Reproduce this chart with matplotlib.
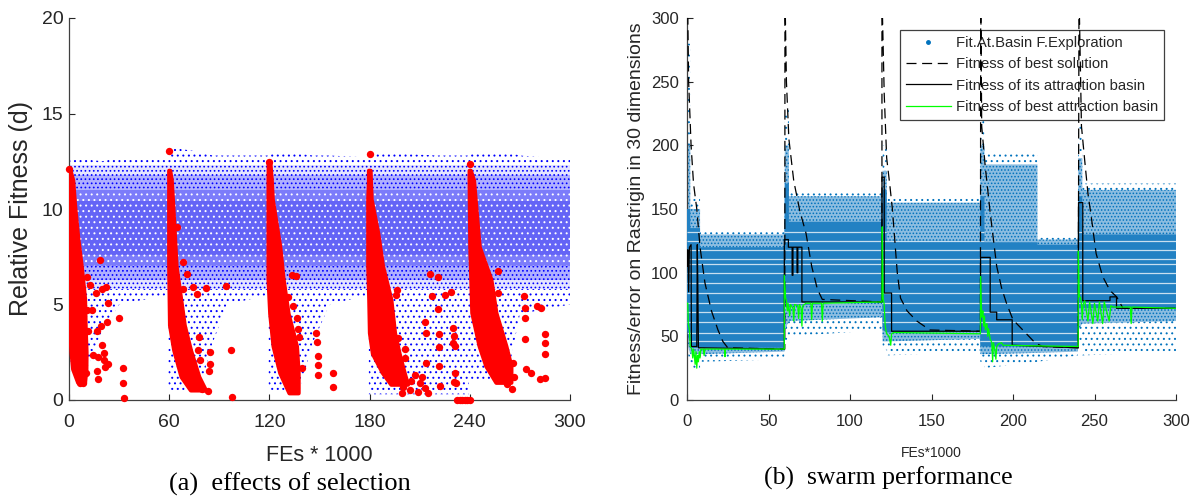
import numpy as np
import matplotlib
matplotlib.use("Agg")
import matplotlib.pyplot as plt
from matplotlib.patches import Polygon
from matplotlib.lines import Line2D

plt.rcParams['font.family'] = ['Liberation Sans', 'DejaVu Sans']
plt.rcParams['hatch.linewidth'] = 0.7

# ---------------- (a) effects of selection ----------------
a_xticks = [0, 60, 120, 180, 240, 300]
a_yticks = [0, 5, 10, 15, 20]

# envelope of the blue cloud
a_x = [0, 2, 10, 20, 30, 59.5, 59.51, 62, 78, 86, 95, 119.5, 119.51, 122, 138, 146, 156, 179.5,
       179.51, 200, 220, 239.5, 239.51, 262, 270, 300]
a_sparse_lo = [1.5, 1.5, 1.5, 3.5, 5.0, 5.5, 0.5, 0.5, 0.5, 3.0, 5.0, 5.5, 0.5, 0.5, 0.5, 3.0, 5.0, 5.5,
               0.3, 0.3, 0.3, 0.3, 1.0, 1.0, 4.5, 5.0]
a_sparse_hi = [12.6, 12.7, 12.6, 12.5, 12.7, 12.7, 13.2, 13.2, 13.0, 12.8, 12.8, 12.8, 13.0, 13.0, 12.9, 12.8,
               12.8, 12.7, 12.9, 12.9, 12.8, 12.8, 13.0, 13.0, 12.8, 12.6]
# density levels of the cloud: (low, high) from sparse to dense
a_levels = [(5.8, 12.3), (6.3, 11.8), (7.0, 11.0), (7.6, 10.4)]
a_level_colors = ['#e4e4ff', '#b0b0ff', '#7c7cfa', '#6464f6']
a_level_hatch = [('....', '#0000ff'), ('....', '#0000ff'), ('...', '#ffffff'), ('...', '#ffffff')]

# dense red bands: (y level, left x, right x)
band1_y = [12.1, 11.5, 10.2, 8.4, 7.0, 5.3, 3.7, 2.5, 1.6, 0.9]
band1_l = [0, 0, 0, 0, 0, 0, 0.6, 1.5, 2.5, 5.5]
band1_r = [0.6, 2.5, 3.6, 5.6, 7.6, 9.6, 10.0, 10.5, 10.4, 9.6]
band2_y = [12.0, 11.5, 10.2, 7.0, 3.9, 2.6, 1.2, 0.5]
band2_l = [60, 60, 60, 60, 60.5, 63, 67.4, 73]
band2_r = [60.6, 61.5, 62.4, 64.4, 69.3, 73, 78, 82]
band3_y = [12.4, 11.5, 10.5, 8.0, 6.3, 4.5, 2.8, 1.4, 0.35]
band3_l = [119.6, 119.5, 119.5, 119.5, 119.5, 120.5, 122.5, 126.5, 132]
band3_r = [120.6, 121.4, 122, 126.5, 128.5, 131.5, 136.5, 137.5, 137.5]
band4_y = [12.0, 11.4, 10.5, 8.7, 7.0, 5.25, 3.5, 2.4, 1.4, 0.8]
band4_l = [179.6, 179.6, 179.2, 179.2, 179.2, 179.8, 180.2, 182, 188, 193]
band4_r = [180.6, 180.8, 181.2, 185.2, 188, 193, 195.2, 198, 201, 203]
band5_y = [12.0, 11.5, 8.0, 6.3, 4.55, 2.8, 1.76, 0.9]
band5_l = [239.9, 239.9, 240.3, 240.9, 241.5, 245.9, 249.9, 255.9]
band5_r = [240.6, 242.5, 245.9, 252.9, 255.9, 261.9, 264.9, 264.9]

# isolated red points
red_x = [18.6, 11, 12.5, 15.9, 19.5, 22, 23.5, 11, 14, 19, 22.9, 30, 11.6, 16.6, 14.5, 17.5, 19.5, 21, 21, 23.5,
         21.5, 16.6, 17.2, 32.5, 32.5, 33, 8.6, 10, 5, 6.5, 0,
         64.6, 68.2, 70.6, 68.2, 74.4, 76.4, 82, 94, 78, 77, 84.4, 78.4, 84.5, 84, 97, 97.8, 79.5, 83.4, 77.5, 60,
         133.4, 136, 131.4, 134.4, 136.4, 137.4, 138, 139.4, 148, 148.4, 149, 149, 149, 158, 158, 120,
         180.2, 196.2, 216.2, 220.8, 196, 217.6, 225.2, 228.8, 221, 213.4, 214, 221.6, 230.5, 231.4, 221.6, 197,
         201, 201, 214, 221.6, 231.4, 232, 222.4, 197.2, 200.2, 204.2, 207.2, 210.2, 213.2, 215.2, 199.2, 209.2,
         205, 211.5, 230, 230, 230.8, 232.5, 234, 235.5, 237, 238.5, 240,
         240.1, 256.7, 257, 264, 266, 263, 272.4, 272.8, 272.8, 272.8, 273.8, 276.8, 280.4, 282.8, 284.8, 284.8,
         285.2, 281.8, 285.2, 266.5, 262, 265]
red_y = [7.33, 6.46, 6.0, 5.6, 5.8, 5.9, 5.1, 4.7, 4.7, 3.9, 4.1, 4.3, 3.6, 3.6, 2.35, 2.27, 2.9, 2.45, 2.1, 1.9,
         1.74, 1.5, 1.1, 1.7, 0.9, 0.13, 0.87, 1.4, 1.76, 0.87, 12.1,
         9.05, 7.2, 6.6, 5.8, 5.9, 5.55, 5.85, 5.95, 3.3, 2.6, 2.5, 2.1, 1.9, 1.5, 2.6, 0.18, 0.6, 0.48, 0.78, 13.05,
         6.54, 6.5, 5.4, 4.9, 4.3, 3.7, 3.3, 1.66, 3.5, 3.05, 2.3, 1.84, 1.3, 1.43, 0.67, 12.45,
         12.86, 5.75, 6.6, 6.45, 5.5, 5.45, 5.5, 5.64, 4.75, 4.1, 3.5, 3.46, 3.35, 2.83, 2.8, 3.27,
         2.65, 2.2, 1.96, 1.78, 1.4, 0.87, 0.73, 1.05, 0.70, 0.53, 1.31, 0.87, 0.61, 0.35, 0.35, 0.44,
         1.0, 1.2, 3.75, 3.0, 0.95, 0.0, 0.0, 0.0, 0.0, 0.0, 0.0,
         12.34, 6.77, 5.62, 1.92, 1.95, 1.54, 5.44, 4.8, 4.28, 3.2, 1.61, 1.43, 4.92, 4.8, 3.46, 2.97,
         2.41, 1.08, 1.13, 1.2, 0.85, 0.6]

# ---------------- (b) swarm performance ----------------
b_xticks = [0, 50, 100, 150, 200, 250, 300]
b_yticks = [0, 50, 100, 150, 200, 250, 300]

b_x = [0, 2, 2.01, 8, 8.01, 59.8, 60, 62.5, 62.51, 119.8, 120, 122.5, 122.51, 179.8, 180, 182.5, 182.51,
       215, 215.01, 239.8, 240, 242.5, 242.51, 300]
b_sparse_hi = [280, 280, 160, 160, 133, 133, 230, 230, 163, 163, 200, 200, 160, 160, 230, 230, 195, 195,
               128, 128, 215, 215, 170, 170]
b_sparse_lo = [40, 28, 25, 25, 30, 32, 45, 50, 50, 55, 40, 40, 35, 38, 30, 28, 25, 30, 30, 35, 45, 40, 35, 38]
b_mid_hi = [200, 200, 150, 150, 130, 130, 200, 200, 160, 160, 180, 180, 155, 155, 200, 200, 185, 185,
            126, 126, 190, 190, 165, 165]
b_mid_lo = [45, 36, 36, 36, 36, 38, 55, 62, 62, 65, 46, 46, 46, 48, 36, 36, 36, 37, 37, 38, 55, 60, 60, 62]
b_core_hi = [150, 150, 135, 135, 120, 120, 170, 170, 140, 140, 165, 165, 125, 125, 160, 160, 124, 124,
             122, 122, 160, 160, 130, 130]
b_core_lo = [55, 41, 41, 41, 41, 41, 74, 74, 74, 77, 55, 53, 53, 54, 42, 42, 42, 42, 42, 42, 72, 72, 72, 72]
b_stripes = [46, 53, 61, 69, 76, 84, 92, 100, 107, 111, 118, 125, 132]

best_x = [0, 0.5, 1, 2.5, 4, 6, 8, 11, 15, 19, 22, 25, 60,
          60.1, 61, 62.5, 65.5, 69.3, 73, 76.5, 80, 83, 119.6,
          119.6, 121, 122.5, 124.5, 126, 127.5, 129, 131, 135, 141, 149, 180,
          180.2, 180.8, 183, 186, 190, 193, 196, 200, 206, 213.5, 218, 240,
          240.5, 242, 244, 246, 248, 251, 255, 259.5, 263.6, 267.5, 300]
best_y = [320, 300, 250, 200, 170, 150, 120, 92, 70, 55, 46, 41, 40,
          320, 250, 205, 172, 148, 131, 105, 87, 79, 77,
          320, 240, 190, 168, 150, 125, 100, 80, 70, 62, 55, 54,
          320, 215, 183, 147, 105, 88, 76, 63, 55, 45, 42, 41,
          320, 215, 188, 162, 144, 115, 97, 86, 81, 72, 72]

its_x = [0, 0.5, 1, 1.5, 2.5, 2.7, 6, 6.3, 6.6, 7, 59.7,
         59.7, 62.2, 62.2, 64.5, 64.5, 65, 65, 67.5, 67.5, 68, 68, 70.5, 70.5, 119.6,
         119.6, 121, 121, 125.5, 125.5, 180.1,
         180.1, 186, 186, 190, 190, 199.5, 199.5, 240,
         240.2, 242.8, 242.8, 259.5, 259.5, 263.5, 263.5, 300]
its_y = [105, 118, 85, 120, 122, 42, 42, 122, 95, 41, 40,
         126, 126, 120, 120, 98, 98, 120, 120, 100, 100, 120, 120, 77, 77,
         175, 175, 84, 84, 54, 54,
         112, 112, 69, 69, 63, 63, 43, 41,
         155, 155, 78, 78, 81, 81, 72, 72]

bab_x = [0, 0.5, 0.8, 1.5, 2, 3, 3.5, 4, 5, 5.5, 6, 6.5, 7, 7.5, 8, 8.5, 10, 10.5, 11, 23, 23.3, 23.6, 59.7,
         59.7, 60.5, 61, 61.5, 62, 63, 63.5, 65, 65.5, 66, 68, 68.5, 69, 70, 70.5, 71, 73, 76, 76.5, 77, 82.5,
         83, 83.5, 119.6,
         119.8, 120.3, 121, 121.5, 122, 122.5, 124, 125, 125.5, 127, 180,
         180.1, 180.5, 181, 181.5, 182, 182.5, 183, 184, 184.5, 185, 186, 187, 187.5, 188, 189, 189.5, 190, 191,
         193, 194, 240,
         240.1, 240.6, 241.5, 242, 242.5, 243, 244, 246, 247, 249, 250, 252, 253, 255, 256, 259, 260, 261.5,
         272, 272.5, 273, 300]
bab_y = [76, 76, 60, 55, 42, 40, 33, 40, 28, 38, 25, 35, 30, 38, 33, 40, 40, 35, 40, 40, 34, 40, 40,
         98, 80, 78, 70, 76, 66, 75, 72, 62, 75, 74, 64, 75, 72, 58, 74, 76, 76, 63, 76, 76,
         62, 76, 77,
         136, 80, 75, 60, 55, 52, 50, 43, 52, 53, 52,
         97, 75, 65, 70, 58, 66, 55, 60, 50, 56, 48, 45, 30, 45, 38, 32, 42, 44,
         45, 43, 42,
         117, 82, 80, 75, 63, 75, 78, 62, 77, 60, 76, 62, 77, 60, 77, 62, 74, 73,
         73, 60, 73, 72]

caption_a = "(a)  effects of selection"
caption_b = "(b)  swarm performance"

# ---------------- drawing ----------------
fig = plt.figure(figsize=(11.97, 4.99), dpi=100)
ax1 = fig.add_axes([69/1197, 99/499, 501/1197, 382/499])
ax2 = fig.add_axes([687/1197, 99/499, 489/1197, 382/499])

dark = '#262626'
blue_a = '#0000ff'
ax1.fill_between(a_x, a_sparse_lo, a_sparse_hi, facecolor='none', edgecolor=blue_a,
                 hatch='...', linewidth=0, zorder=1)
for i, ((lo, hi), fc, (ht, hc)) in enumerate(zip(a_levels, a_level_colors, a_level_hatch)):
    ax1.fill_between([0, 300], lo, hi, facecolor=fc, edgecolor=hc,
                     hatch=ht, linewidth=0, zorder=2 + i * 0.1)

for by, bl, br in [(band1_y, band1_l, band1_r), (band2_y, band2_l, band2_r), (band3_y, band3_l, band3_r),
                   (band4_y, band4_l, band4_r), (band5_y, band5_l, band5_r)]:
    verts = list(zip(bl, by)) + list(zip(br, by))[::-1]
    ax1.add_patch(Polygon(verts, closed=True, facecolor='#ff0000', edgecolor='#ff0000',
                          linewidth=3.0, joinstyle='round', zorder=4))
ax1.scatter(red_x, red_y, s=28, color='#ff0000', linewidths=0, zorder=5, clip_on=False)

ax1.set_xlim(0, 300)
ax1.set_ylim(0, 20)
ax1.set_xticks(a_xticks)
ax1.set_yticks(a_yticks)
ax1.tick_params(direction='in', length=4, width=0.8, colors=dark, labelsize=14)
ax1.tick_params(axis='x', pad=10)
ax1.tick_params(axis='y', pad=4)
for s in ['top', 'right']:
    ax1.spines[s].set_visible(False)
for s in ['left', 'bottom']:
    ax1.spines[s].set_color('#404040')
    ax1.spines[s].set_linewidth(0.9)
ax1.set_ylabel('Relative Fitness (d)', fontsize=18, color=dark, labelpad=6)
ax1.set_xlabel('FEs * 1000', fontsize=15.5, color=dark, labelpad=10)

# (b)
blue_b = '#0072bd'
ax2.fill_between(b_x, b_sparse_lo, b_sparse_hi, facecolor='none', edgecolor=blue_b,
                 hatch='...', linewidth=0, zorder=1)
ax2.fill_between(b_x, b_mid_lo, b_mid_hi, facecolor='#8cbde0', edgecolor=blue_b,
                 hatch='.....', linewidth=0, zorder=2)
core = ax2.fill_between(b_x, b_core_lo, b_core_hi, facecolor='#2281c3', edgecolor='none', linewidth=0, zorder=3)
st = ax2.hlines(b_stripes, 0, 300, colors='white', linewidth=0.9, alpha=0.75, zorder=3.5)
st.set_clip_path(core.get_paths()[0], ax2.transData)

ax2.plot(best_x, best_y, color='black', linewidth=0.9, dashes=(8, 4.5), zorder=6)
ax2.plot(its_x, its_y, color='black', linewidth=0.9, zorder=7)
ax2.plot(bab_x, bab_y, color='#00ff00', linewidth=0.9, zorder=8)

ax2.set_xlim(0, 300)
ax2.set_ylim(0, 300)
ax2.set_xticks(b_xticks)
ax2.set_yticks(b_yticks)
ax2.tick_params(direction='in', length=4, width=0.8, colors=dark, labelsize=12, pad=6)
ax2.tick_params(axis='x', pad=10)
for s in ['top', 'right']:
    ax2.spines[s].set_visible(False)
for s in ['left', 'bottom']:
    ax2.spines[s].set_color('#404040')
    ax2.spines[s].set_linewidth(0.9)
ax2.set_ylabel('Fitness/error on Rastrigin in 30 dimensions', fontsize=14, color=dark, labelpad=4)
ax2.set_xlabel('FEs*1000', fontsize=10, color=dark, labelpad=12)

handles = [Line2D([], [], linestyle='none', marker='.', markersize=5, color=blue_b),
           Line2D([], [], color='black', linewidth=0.9, dashes=(8, 4.5)),
           Line2D([], [], color='black', linewidth=0.9),
           Line2D([], [], color='#00ff00', linewidth=0.9)]
labels = ['Fit.At.Basin F.Exploration', 'Fitness of best solution', 'Fitness of its attraction basin',
          'Fitness of best attraction basin']
leg = ax2.legend(handles, labels, loc='upper right', fontsize=10.7, frameon=True, fancybox=False,
                 edgecolor='#404040', framealpha=1, borderaxespad=0.8, handlelength=3.0,
                 handletextpad=0.35, labelspacing=0.5, borderpad=0.4)
leg.get_frame().set_linewidth(0.9)
for t in leg.get_texts():
    t.set_color(dark)

fig.text(290/1197, 1 - 484/499, caption_a, ha='center', va='center', fontsize=19,
         family='Liberation Serif', color='black')
fig.text(888/1197, 1 - 478/499, caption_b, ha='center', va='center', fontsize=18.5,
         family='Liberation Serif', color='black')

fig.savefig('out.png', dpi=100)
